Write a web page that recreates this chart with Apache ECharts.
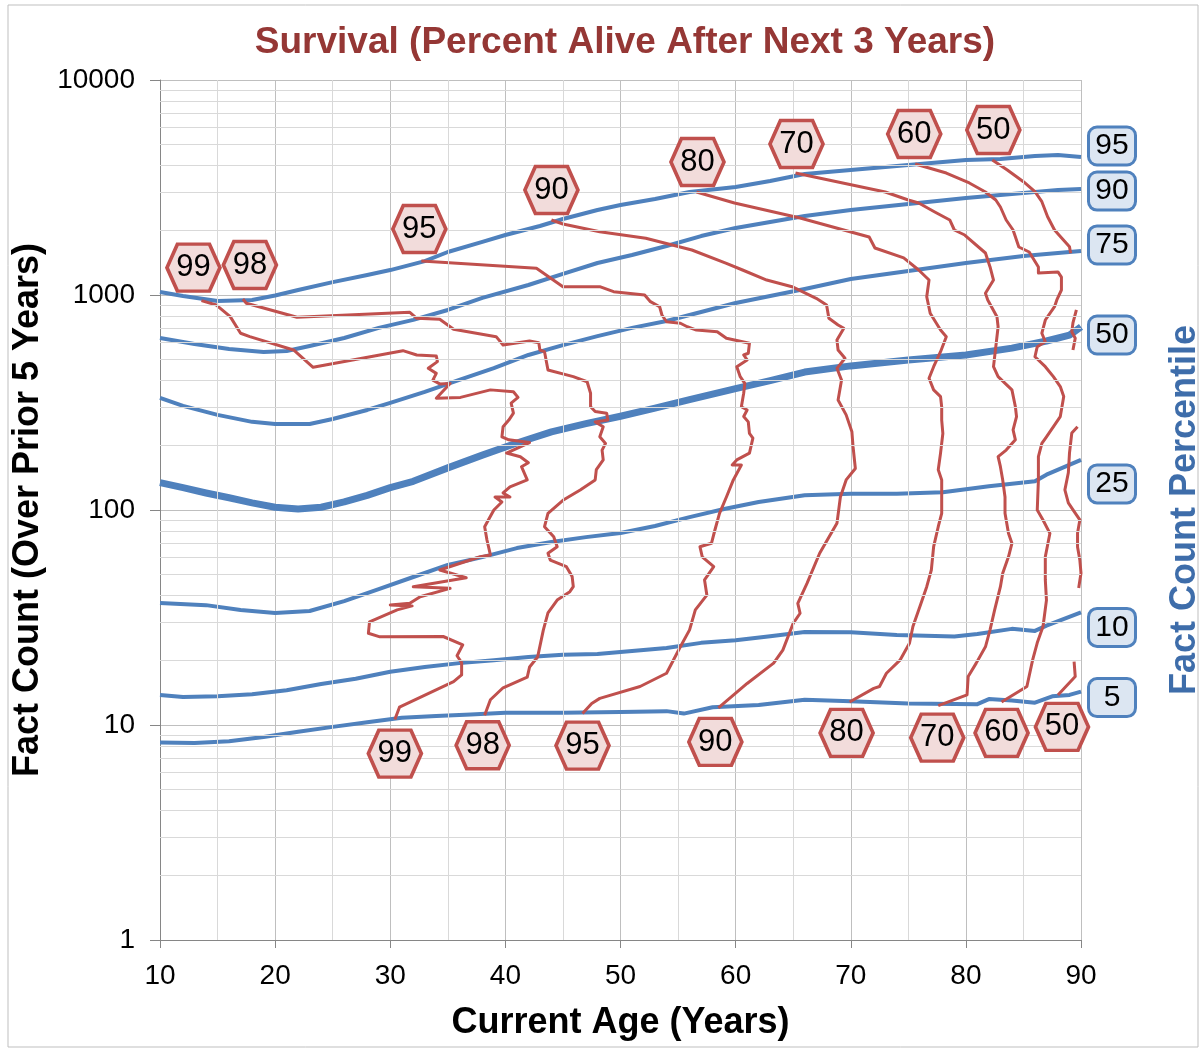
<!DOCTYPE html>
<html>
<head>
<meta charset="utf-8">
<script src="https://cdn.jsdelivr.net/npm/echarts@6/dist/echarts.min.js"></script>
<style>
html, body { margin: 0; padding: 0; background: #fff; }
#main { width: 1203px; height: 1051px; }
</style>
</head>
<body>
<div id="main"></div>
<script>
// fact count percentile lines, [age, fact count]
var pct95 = [[10,1033],[12,990],[15,938],[18,948],[20,995],[22,1055],[25,1148],[28,1238],[30,1306],[33,1438],[35,1585],[38,1765],[40,1901],[43,2094],[45,2256],[48,2485],[50,2623],[53,2798],[56,3015],[60,3179],[63,3390],[66,3653],[70,3811],[75,4025],[80,4246],[83,4295],[86,4433],[88,4481],[90,4385]];
var pct90 = [[10,631],[13,592],[16,561],[19,543],[21,549],[23,579],[26,631],[29,703],[32,766],[35,852],[38,969],[42,1113],[45,1253],[48,1409],[51,1535],[54,1690],[57,1880],[60,2049],[63,2187],[66,2330],[70,2485],[75,2650],[80,2826],[85,2979],[88,3076],[90,3110]];
var pct75 = [[10,332],[12,305],[15,277],[18,257],[20,251],[23,251],[25,265],[28,292],[30,315],[33,354],[36,403],[39,457],[42,526],[45,585],[48,644],[51,703],[54,757],[57,834],[60,918],[63,990],[66,1067],[70,1186],[75,1294],[80,1409],[85,1517],[90,1603]];
var pct50 = [[10,134],[12,127],[14,120],[16,114],[18,108],[20,103],[22,101],[24,103],[26,109],[28,117],[30,127],[32,136],[35,157],[38,180],[41,205],[44,231],[47,252],[50,273],[53,298],[56,326],[60,367],[63,400],[66,438],[70,468],[75,499],[80,526],[84,566],[87,611],[89,651],[90,710]];
var pct25 = [[10,36.9],[14,36.1],[17,34.3],[20,33.2],[23,33.9],[26,37.7],[29,42.9],[32,48.8],[35,55.5],[38,60.4],[41,66.5],[44,71.0],[47,74.8],[50,78.2],[53,84.3],[56,92.7],[59,101],[62,109],[66,117],[70,119],[74,119],[78,121],[82,129],[86,136],[87,146],[90,171]];
var pct10 = [[10,13.8],[12,13.5],[15,13.6],[18,13.9],[21,14.5],[24,15.5],[27,16.4],[30,17.7],[33,18.6],[36,19.4],[39,20.0],[42,20.7],[45,21.2],[48,21.4],[51,22.1],[54,22.8],[57,24.1],[60,24.8],[63,25.9],[66,27.1],[70,27.0],[74,26.2],[79,25.8],[81,26.5],[84,28.0],[86,27.4],[87,29.0],[90,33.4]];
var pct5 = [[10,8.3],[13,8.25],[16,8.4],[19,8.8],[22,9.3],[25,9.8],[28,10.3],[31,10.8],[34,11.0],[37,11.2],[40,11.4],[45,11.4],[50,11.5],[54,11.6],[55.5,11.3],[58,12.1],[62,12.4],[66,13.1],[70,12.9],[75,12.6],[81,12.5],[82,13.2],[84,13.0],[86,12.7],[87.5,13.6],[89,13.8],[90,14.3]];

// survival contours (percent alive after next 3 years), [age, fact count]; null = gap
var surv99 = [[13.6,941],[14.9,898],[16.1,793],[17.0,664],[17.8,640],[21.6,555],[23.3,461],[31.1,551],[32.3,526],[34.0,520],[34.1,490],[33.3,456],[34.0,432],[33.7,402],[34.3,386],[35.2,388],[34.0,331],[36.1,334],[38.7,362],[40.7,355],[41.1,334],[40.5,314],[40.7,282],[40.3,262],[39.8,244],[39.7,219],[40.3,212],[42.1,206],[40.1,184],[41.3,177],[42.0,166],[41.4,159],[41.9,138],[40.4,128],[39.8,120],[40.4,115],[39.1,115],[39.7,109],[39.0,100],[38.2,83.6],[38.4,72.5],[38.7,61.8],[37.8,60.6],[34.3,52.6],[36.6,48.4],[32.0,44.0],[35.2,43.2],[32.6,39.5],[31.7,36.8],[30.0,36.2],[31.9,35.8],[30.6,34.3],[28.2,30.2],[28.1,26.7],[29.1,25.7],[34.6,25.8],[36.3,23.6],[35.8,21.0],[36.2,19.5],[36.2,17.1],[35.5,15.9],[30.8,12.1],[30.4,10.6]];
var surv98 = [[17.2,958],[17.5,915],[21.9,788],[31.7,831],[32.3,779],[34.3,771],[35.5,693],[39.2,640],[39.8,585],[42.1,611],[42.9,600],[43.0,555],[43.4,545],[43.7,448],[45.9,417],[47.1,395],[47.4,349],[47.4,302],[47.8,287],[48.8,282],[48.9,262],[47.8,257],[48.5,244],[48.2,219],[48.7,204],[48.4,190],[48.5,171],[47.9,154],[47.8,138],[46.5,124],[45.0,111],[43.7,96.5],[43.4,83.6],[44.2,75.1],[44.5,67.5],[43.7,62.9],[43.9,58.5],[45.3,54.5],[45.8,49.0],[45.9,44.0],[45.6,41.7],[44.5,38.1],[43.7,33.2],[43.3,27.7],[42.8,20.7],[42.1,18.6],[41.9,16.7],[39.8,14.9],[38.7,13.1],[38.2,11.1]];
var surv95 = [[32.7,1439],[42.7,1331],[45.0,1093],[48.2,1093],[49.4,1036],[52.1,1000],[52.6,931],[53.4,882],[53.6,807],[54.0,751],[55.2,739],[55.8,712],[56.6,687],[58.4,675],[59.2,629],[61.2,596],[61.1,536],[60.7,526],[61.0,499],[60.1,464],[60.4,417],[60.8,388],[60.7,349],[60.5,302],[61.0,292],[60.7,272],[61.1,257],[61.2,227],[61.5,216],[61.2,184],[60.1,171],[59.7,162],[60.5,162],[59.8,138],[59.2,115],[58.6,96.5],[58.2,80.7],[57.9,70.0],[56.9,67.5],[57.1,60.6],[58.1,54.5],[57.3,47.3],[57.5,40.2],[56.5,34.3],[56.0,27.7],[55.2,23.1],[54.0,17.4],[51.7,15.1],[48.2,13.3],[47.5,12.6],[46.7,11.3]];
var surv90 = [[44.0,2233],[45.0,2140],[48.2,1970],[52.2,1836],[56.2,1619],[59.2,1404],[60.6,1307],[62.7,1174],[64.9,1093],[67.0,965],[67.9,899],[68.1,779],[68.9,725],[69.4,700],[68.8,618],[68.9,555],[69.5,508],[68.8,456],[69.2,402],[68.9,325],[69.6,277],[70.1,231],[70.2,197],[70.4,156],[69.6,138],[69.1,115],[68.8,86.7],[67.3,62.9],[66.2,45.6],[65.4,36.8],[65.6,33.1],[65.0,29.7],[64.1,22.3],[63.3,19.4],[61.0,15.6],[58.5,12.0]];
var surv80 = [[56.6,3014],[59.9,2680],[65.6,2282],[71.6,1862],[72.1,1654],[74.6,1487],[75.9,1307],[76.8,1174],[76.6,982],[76.9,822],[77.8,687],[78.3,640],[77.8,545],[77.2,464],[76.8,410],[77.2,362],[77.8,337],[77.9,302],[77.9,262],[78.0,227],[77.8,184],[77.6,154],[77.9,138],[77.9,96.5],[77.6,83.6],[77.2,67.5],[77.0,52.6],[76.6,44.0],[76.0,35.5],[75.4,28.7],[75.1,24.0],[74.3,20.1],[73.1,17.4],[72.5,15.1],[72.0,14.8],[69.9,12.8]];
var surv70 = [[65.2,3693],[73.0,3014],[75.0,2766],[75.9,2680],[77.3,2433],[78.6,2233],[79.0,2006],[79.9,1901],[81.7,1568],[81.9,1455],[82.1,1350],[82.4,1174],[81.7,1018],[81.9,948],[82.7,793],[82.8,712],[82.4,464],[82.8,417],[84.0,362],[84.3,302],[84.4,272],[84.1,236],[84.3,212],[83.5,190],[82.8,177],[83.0,159],[83.2,138],[83.4,115],[83.4,96.5],[83.7,77.9],[84.0,70.0],[83.7,60.6],[83.2,50.8],[83.0,44.0],[82.5,34.3],[82.1,27.7],[81.7,23.1],[80.9,19.4],[80.2,16.8],[80.1,13.8],[77.6,12.3]];
var surv60 = [[75.6,4067],[78.3,3693],[80.3,3319],[81.7,3014],[82.6,2766],[83.0,2566],[83.5,2233],[84.1,2006],[84.6,1672],[85.5,1585],[86.3,1350],[86.3,1266],[88.0,1280],[88.3,1212],[88.3,1055],[87.9,948],[87.7,882],[86.9,765],[86.6,664],[86.9,606],[86.2,575],[86.0,516],[86.9,464],[87.6,417],[88.2,375],[88.5,337],[88.2,272],[87.0,219],[86.6,204],[86.3,177],[86.3,138],[86.2,100],[86.7,89.9],[87.3,77.9],[86.9,60.6],[86.9,47.3],[87.0,38.1],[86.7,28.7],[86.2,24.1],[85.8,20.1],[85.3,15.1],[83.1,12.8]];
var surv50 = [[82.3,4245],[83.6,3814],[85.0,3366],[86.0,3024],[86.6,2717],[87.1,2313],[87.7,2006],[89.0,1677],[89.1,1563],null,[89.6,852],[89.3,741],[89.2,675],[89.5,629],[89.3,555],null,[89.7,244],[89.2,228],[89.0,184],[88.9,149],[88.6,124],[88.9,108],[89.5,96.8],[89.9,89.9],[89.7,78.2],[89.7,67.3],[89.9,58.5],[90.0,50.9],[89.8,43.4],null,[89.4,19.7],[89.5,16.8],[88.0,13.8]];

// minor grid values
var minorCounts = [2,3,4,5,6,7,8,9,20,30,40,50,60,70,80,90,200,300,400,500,600,700,800,900,2000,3000,4000,5000,6000,7000,8000,9000];
var minorAges = [15,25,35,45,55,65,75,85];

var font = '"Liberation Sans", Arial, sans-serif';
var blue = '#4F81BD';
var red = '#C0504D';
// hexagon drawn at its display size so the border is not scaled down
var hexPath = 'path://M10.5,0L42.5,0L53,23.5L42.5,47L10.5,47L0,23.5Z';

var percentiles = [
    {name: '95', data: pct95, dy: -11},
    {name: '90', data: pct90, dy: 2},
    {name: '75', data: pct75, dy: -6},
    {name: '50', data: pct50, dy: 8},
    {name: '25', data: pct25, dy: 24},
    {name: '10', data: pct10, dy: 15},
    {name: '5', data: pct5, dy: 6}
];

// hexagon tags sit above the first point and below the last point
var survival = [
    {name: '99', data: surv99, top: [-8, -33], bottom: [0, 34]},
    {name: '98', data: surv98, top: [7, -34], bottom: [-2, 30]},
    {name: '95', data: surv95, top: [-2, -32], bottom: [0, 32]},
    {name: '90', data: surv90, top: [0, -30], bottom: [-3, 34]},
    {name: '80', data: surv80, top: [1, -30], bottom: [-3, 31]},
    {name: '70', data: surv70, top: [1, -29], bottom: [-1, 32]},
    {name: '60', data: surv60, top: [-1, -30], bottom: [0, 31]},
    {name: '50', data: surv50, top: [1, -30], bottom: [4, 32]}
];

function splitSegments(list) {
    var segs = [], cur = [];
    for (var i = 0; i < list.length; i++) {
        if (list[i] === null) {
            if (cur.length) segs.push(cur);
            cur = [];
        } else {
            cur.push(list[i]);
        }
    }
    if (cur.length) segs.push(cur);
    return segs;
}

var series = [];

// light minor grid lines
series.push({
    type: 'line',
    data: [],
    z: 1,
    silent: true,
    markLine: {
        silent: true,
        symbol: 'none',
        animation: false,
        label: {show: false},
        emphasis: {disabled: true},
        lineStyle: {color: '#D9D9D9', width: 1, type: 'solid'},
        data: minorCounts.map(function (v) { return {yAxis: v}; })
            .concat(minorAges.map(function (a) { return {xAxis: a}; }))
    }
});

percentiles.forEach(function (p) {
    series.push({
        name: 'p' + p.name,
        type: 'line',
        data: p.data,
        symbol: 'none',
        showSymbol: false,
        silent: true,
        z: 2,
        lineStyle: {color: blue, width: p.name === '50' ? 7 : 4, join: 'round'},
        endLabel: {
            show: true,
            formatter: function () { return '{t|' + p.name + '}'; },
            distance: 9,
            offset: [0, p.dy],
            backgroundColor: '#DCE6F2',
            borderColor: blue,
            borderWidth: 3,
            borderRadius: 7,
            padding: [2, 2],
            rich: {
                t: {width: 40, height: 31, lineHeight: 31, align: 'center', fontSize: 30, color: '#000', fontFamily: font}
            }
        }
    });
});

survival.forEach(function (s) {
    var segs = splitSegments(s.data);
    segs.forEach(function (seg, i) {
        var tags = [];
        if (i === 0) tags.push({coord: seg[0], symbolOffset: s.top});
        if (i === segs.length - 1) tags.push({coord: seg[seg.length - 1], symbolOffset: s.bottom});
        series.push({
            name: 's' + s.name,
            type: 'line',
            data: seg,
            symbol: 'none',
            showSymbol: false,
            silent: true,
            z: 3,
            lineStyle: {color: red, width: 3, join: 'round'},
            markPoint: {
                silent: true,
                animation: false,
                symbol: hexPath,
                symbolSize: [53, 47],
                itemStyle: {color: '#F2DCDB', borderColor: red, borderWidth: 3.5},
                label: {show: true, formatter: s.name, color: '#000', fontSize: 31, fontFamily: font},
                data: tags
            }
        });
    });
});

var chart = echarts.init(document.getElementById('main'));

var option = {
    animation: false,
    backgroundColor: '#fff',
    textStyle: {fontFamily: font},
    title: {
        text: 'Survival (Percent Alive After Next 3 Years)',
        left: 620,
        top: 19,
        textAlign: 'center',
        textStyle: {fontSize: 37, fontWeight: 'bold', color: '#953735', fontFamily: font}
    },
    graphic: [{
        type: 'rect',
        shape: {x: 8, y: 5, width: 1190, height: 1042},
        style: {fill: 'none', stroke: '#BFBFBF', lineWidth: 1},
        silent: true,
        z: -1
    }],
    grid: {left: 160, top: 80, width: 921, height: 860, containLabel: false, outerBoundsMode: 'none'},
    xAxis: {
        type: 'value',
        min: 10,
        max: 90,
        interval: 10,
        name: 'Current Age (Years)',
        nameLocation: 'middle',
        nameGap: 65,
        nameTextStyle: {fontSize: 36, fontWeight: 'bold', color: '#000', fontFamily: font},
        axisLine: {show: true, lineStyle: {color: '#868686', width: 1}},
        axisTick: {show: true, length: 8, lineStyle: {color: '#868686'}},
        axisLabel: {fontSize: 28, color: '#000', margin: 22, fontFamily: font},
        splitLine: {show: true, lineStyle: {color: '#BFBFBF', width: 1}}
    },
    yAxis: [{
        type: 'log',
        logBase: 10,
        min: 1,
        max: 10000,
        name: 'Fact Count (Over Prior 5 Years)',
        nameLocation: 'middle',
        nameRotate: 90,
        nameGap: 97,
        nameTextStyle: {fontSize: 36, fontWeight: 'bold', color: '#000', fontFamily: font},
        axisLine: {show: true, lineStyle: {color: '#868686', width: 1}},
        axisTick: {show: true, length: 10, lineStyle: {color: '#868686'}},
        axisLabel: {
            fontSize: 28, color: '#000', margin: 25, fontFamily: font,
            formatter: function (v) { return String(v); }
        },
        splitLine: {show: true, lineStyle: {color: '#BFBFBF', width: 1}}
    }, {
        type: 'log',
        logBase: 10,
        min: 1,
        max: 10000,
        position: 'right',
        name: 'Fact Count Percentile',
        nameLocation: 'middle',
        nameRotate: 90,
        nameGap: 86,
        nameTextStyle: {fontSize: 36, fontWeight: 'bold', color: '#3E6DAA', fontFamily: font},
        axisLine: {show: false},
        axisTick: {show: false},
        axisLabel: {show: false},
        splitLine: {show: false}
    }],
    series: series
};

chart.setOption(option);
</script>
</body>
</html>
